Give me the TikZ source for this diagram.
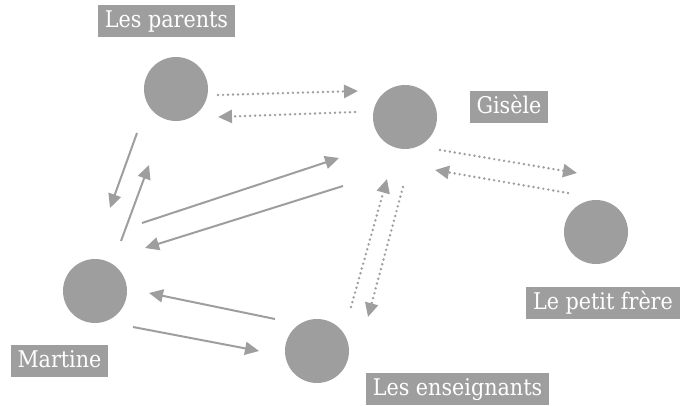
\documentclass[tikz,border=0pt]{standalone}
\usepackage{fontspec}
\setmainfont{DejaVu Serif Condensed}
\usepackage{xcolor}
\usepackage{tikz}
\usetikzlibrary{arrows.meta, positioning, calc}
\definecolor{grisnoeud}{HTML}{9E9E9E}

\begin{document}
\begin{tikzpicture}[x=1pt,y=-1pt,>={Triangle[length=14pt,width=13pt]},
            personne/.style={circle,fill=grisnoeud,minimum size=64pt,inner sep=0pt},
            etiquette/.style={fill=grisnoeud,text=white,font=\fontsize{23}{23}\selectfont,inner xsep=7pt,minimum height=32pt,text height=17pt,text depth=4pt},
            lien/.style={->,draw=grisnoeud,line width=2pt},
            pointille/.style={lien,line width=2.7pt,line cap=round,dash pattern=on 0pt off 5pt}]
            \useasboundingbox (0,0) rectangle (680,406);

            \node[personne] (parents) at (176,89) {};
            \node[personne] (gisele) at (405,117) {};
            \node[personne] (frere) at (596,232) {};
            \node[personne] (martine) at (95,291) {};
            \node[personne] (enseignants) at (317,351) {};

            \node[etiquette] (lparents) at (166.5,21.5) {Les parents};
            \node[etiquette] (lgisele) at (509,107.5) {Gisèle};
            \node[etiquette] (lfrere) at (603,303) {Le petit frère};
            \node[etiquette] (lmartine) at (59.5,360.5) {Martine};
            \node[etiquette] (lenseignants) at (457.5,389) {Les enseignants};

            \draw[pointille] ($(parents)+(42,6)$) -- ($(gisele)+(-47,-26)$);
            \draw[pointille] ($(gisele)+(-50,-5)$) -- ($(parents)+(42,28)$);
            \draw[pointille] ($(gisele)+(35,33)$) -- ($(frere)+(-19,-59)$);
            \draw[pointille] ($(frere)+(-28,-39)$) -- ($(gisele)+(30,53)$);
            \draw[pointille] ($(enseignants)+(34,-44)$) -- ($(gisele)+(-18,62)$);
            \draw[pointille] ($(gisele)+(-2,70)$) -- ($(enseignants)+(51,-34)$);

            \draw[lien] ($(parents)+(-39,44)$) -- ($(martine)+(15,-83)$);
            \draw[lien] ($(martine)+(26,-50)$) -- ($(parents)+(-27,76)$);
            \draw[lien] ($(martine)+(47,-68)$) -- ($(gisele)+(-66,41)$);
            \draw[lien] ($(gisele)+(-62,69)$) -- ($(martine)+(50,-43)$);
            \draw[lien] ($(enseignants)+(-42,-32)$) -- ($(martine)+(54,2)$);
            \draw[lien] ($(martine)+(38,36)$) -- ($(enseignants)+(-58,0)$);
        \end{tikzpicture}
\end{document}
